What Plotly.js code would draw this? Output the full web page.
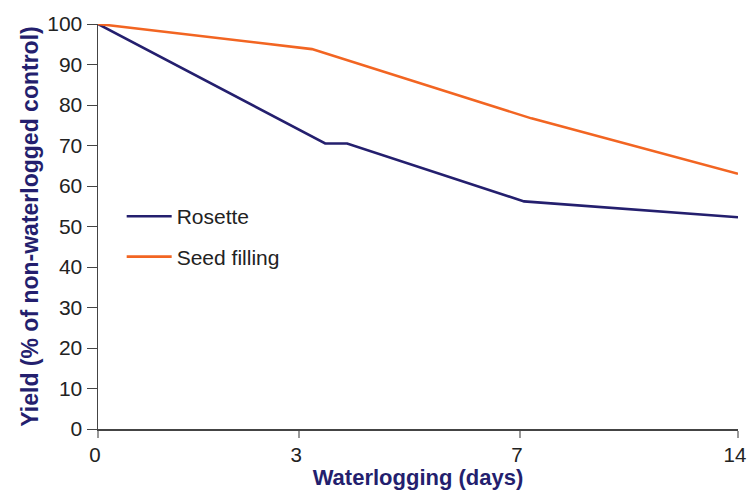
<!DOCTYPE html>
<html>
<head>
<meta charset="utf-8">
<script src="https://cdn.plot.ly/plotly-3.0.1.min.js"></script>
<style>html,body{margin:0;padding:0;background:#fff;}#chart{width:747px;height:490px;}</style>
</head>
<body>
<div id="chart"></div>
<script>
// x positions on the (unevenly spaced) waterlogging axis
var tickPositions = [0, 4.40, 9.23, 14];
var tickLabels = ['0', '3', '7', '14'];

var rosetteX = [0, 4.97, 5.45, 9.32, 14];
var rosetteY = [100, 70.5, 70.5, 56.2, 52.3];

var seedX = [0, 4.68, 9.48, 14];
var seedY = [100, 93.8, 76.7, 63.0];

var yTicks = [0, 10, 20, 30, 40, 50, 60, 70, 80, 90, 100];

var navy = '#241f6e';
var orange = '#f26522';

var traces = [
  {x: rosetteX, y: rosetteY, name: 'Rosette', legendgroup: 'a', mode: 'lines', type: 'scatter',
   line: {color: navy, width: 2.6}, cliponaxis: false},
  {x: seedX, y: seedY, name: 'Seed filling', legendgroup: 'b', mode: 'lines', type: 'scatter',
   line: {color: orange, width: 2.6}, cliponaxis: false}
];

var layout = {
  width: 747, height: 490,
  margin: {l: 98, r: 9, t: 24, b: 61},
  paper_bgcolor: '#fff', plot_bgcolor: '#fff',
  font: {family: 'Liberation Sans, Arial, sans-serif', color: '#222', size: 21},
  showlegend: true,
  legend: {x: 0.037, y: 0.575, xanchor: 'left', yanchor: 'top',
           font: {size: 21, color: '#222'}, tracegroupgap: 10,
           itemwidth: 45, bgcolor: 'rgba(0,0,0,0)'},
  xaxis: {
    range: [0, 14], tickmode: 'array', tickvals: tickPositions, ticktext: tickLabels,
    showgrid: false, zeroline: false, showline: true, linecolor: '#444', linewidth: 1.5,
    ticks: 'outside', ticklen: 7, tickcolor: '#999', tickwidth: 1.5,
    ticklabeloverflow: 'allow', ticklabelshift: -3,
    tickfont: {size: 20.5, color: '#222'},
    title: {text: '<b>Waterlogging (days)</b>', font: {size: 22, color: navy}, standoff: 1}
  },
  yaxis: {
    range: [0, 100], tickmode: 'array', tickvals: yTicks,
    showgrid: false, zeroline: false, showline: true, linecolor: '#444', linewidth: 1.5,
    ticks: 'outside', ticklen: 10, tickcolor: '#444', tickwidth: 1,
    ticklabeloverflow: 'allow',
    tickfont: {size: 21, color: '#222'},
    title: {text: '<b>Yield (% of non-waterlogged control)</b>', font: {size: 23, color: navy}, standoff: 2}
  }
};

Plotly.newPlot('chart', traces, layout, {displayModeBar: false, staticPlot: true});
</script>
</body>
</html>
